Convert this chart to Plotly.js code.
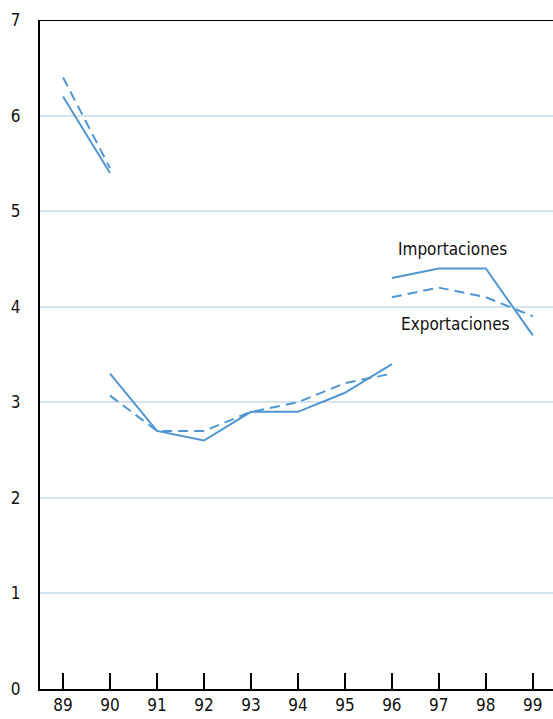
<!DOCTYPE html>
<html>
<head>
<meta charset="utf-8">
<script src="https://cdn.plot.ly/plotly-3.0.1.min.js"></script>
<style>html,body{margin:0;padding:0;background:#fff;}#chart{width:553px;height:719px;}</style>
</head>
<body>
<div id="chart"></div>
<script>
const years = [89, 90, null, 90, 91, 92, 93, 94, 95, 96, null, 96, 97, 98, 99];
const importaciones = [6.2, 5.4, null, 3.3, 2.7, 2.6, 2.9, 2.9, 3.1, 3.4, null, 4.3, 4.4, 4.4, 3.7];
const exportaciones = [6.4, 5.45, null, 3.07, 2.7, 2.7, 2.9, 3.0, 3.2, 3.3, null, 4.1, 4.2, 4.1, 3.9];
const tickYears = [89, 90, 91, 92, 93, 94, 95, 96, 97, 98, 99];
const tickLabels = ["89", "90", "91", "92", "93", "94", "95", "96", "97", "98", "99"];
const lineColor = "#5096d0";
const fontFam = "'Liberation Sans Narrow', 'DejaVu Sans Condensed', sans-serif";

const traces = [
  {x: years, y: importaciones, type: "scatter", mode: "lines", name: "Importaciones",
   line: {color: lineColor, width: 2}, connectgaps: false},
  {x: years, y: exportaciones, type: "scatter", mode: "lines", name: "Exportaciones",
   line: {color: lineColor, width: 2, dash: "10px,6px"}, connectgaps: false}
];

const layout = {
  width: 553, height: 719,
  margin: {l: 40, r: 0, t: 20, b: 30},
  showlegend: false,
  paper_bgcolor: "#fff", plot_bgcolor: "#fff",
  font: {family: fontFam, size: 17, color: "#111"},
  xaxis: {
    range: [88.51, 99.43], tickvals: tickYears, ticktext: tickLabels,
    ticks: "inside", ticklen: 16, tickwidth: 2, tickcolor: "#000",
    showgrid: false, zeroline: false, showline: true, linecolor: "#000", linewidth: 2,
    tickfont: {family: fontFam, size: 17, color: "#111"}, fixedrange: true
  },
  yaxis: {
    range: [0, 7], tickvals: [0,1,2,3,4,5,6,7],
    showgrid: true, gridcolor: "#d5e3f0", gridwidth: 2,
    zeroline: false, showline: true, linecolor: "#000", linewidth: 2,
    ticks: "", ticklabelstandoff: 14,
    tickfont: {family: fontFam, size: 17, color: "#111"}, fixedrange: true
  },
  shapes: [
    {type: "line", xref: "paper", yref: "y", x0: 0, x1: 1, y0: 7, y1: 7,
     line: {color: "#000", width: 2}}
  ],
  annotations: [
    {x: 97.3, y: 4.6, xref: "x", yref: "y", text: "Importaciones", showarrow: false,
     font: {family: fontFam, size: 17, color: "#111"}},
    {x: 97.35, y: 3.82, xref: "x", yref: "y", text: "Exportaciones", showarrow: false,
     font: {family: fontFam, size: 17, color: "#111"}}
  ]
};

Plotly.newPlot("chart", traces, layout, {displayModeBar: false, staticPlot: true});
</script>
</body>
</html>
